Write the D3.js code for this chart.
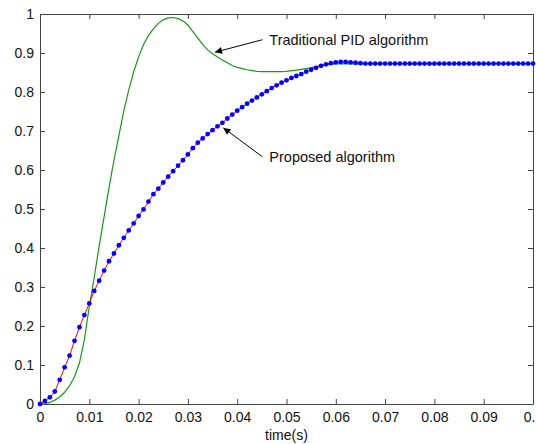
<!DOCTYPE html>
<html>
<head>
<meta charset="utf-8">
<script src="https://cdn.jsdelivr.net/npm/d3@7"></script>
<style>
  body { margin: 0; background: #fff; }
  svg { display: block; font-family: Arial, 'Liberation Sans', sans-serif; }
</style>
</head>
<body>
<svg id="chart" width="536" height="444"></svg>
<script>
// sample times, one every millisecond
const time = d3.range(0, 101).map((i) => i / 1000);

// traditional PID step response (green)
const pidValues = [
  0, 0.001, 0.004, 0.01, 0.018, 0.03, 0.047, 0.07, 0.105, 0.165,
  0.25, 0.325, 0.405, 0.48, 0.555, 0.625, 0.688, 0.752, 0.805, 0.852,
  0.89, 0.922, 0.945, 0.962, 0.976, 0.985, 0.99, 0.991, 0.988, 0.982,
  0.972, 0.955, 0.938, 0.922, 0.908, 0.898, 0.89, 0.882, 0.875, 0.868,
  0.863, 0.86, 0.857, 0.855, 0.853, 0.852, 0.852, 0.852, 0.852, 0.852,
  0.853, 0.855, 0.856, 0.858, 0.86, 0.862, 0.865, 0.867, 0.869, 0.871,
  0.872, 0.872, 0.872, 0.872, 0.872, 0.872, 0.872, 0.872, 0.872, 0.872,
  0.872, 0.872, 0.872, 0.872, 0.872, 0.872, 0.872, 0.872, 0.872, 0.872,
  0.872, 0.872, 0.872, 0.872, 0.872, 0.872, 0.872, 0.872, 0.872, 0.872,
  0.872, 0.872, 0.872, 0.872, 0.872, 0.872, 0.872, 0.872, 0.872, 0.872,
  0.872,
];

// proposed algorithm step response (red line, blue dots)
const proposedValues = [
  0, 0.008, 0.017, 0.032, 0.062, 0.094, 0.124, 0.162, 0.197, 0.228,
  0.258, 0.29, 0.316, 0.342, 0.366, 0.386, 0.407, 0.426, 0.445, 0.463,
  0.482, 0.499, 0.519, 0.538, 0.552, 0.568, 0.583, 0.597, 0.611, 0.625,
  0.64, 0.656, 0.67, 0.681, 0.692, 0.702, 0.712, 0.721, 0.732, 0.742,
  0.752, 0.761, 0.77, 0.778, 0.786, 0.794, 0.802, 0.81, 0.817, 0.824,
  0.83, 0.836, 0.841, 0.846, 0.852, 0.857, 0.862, 0.867, 0.871, 0.874,
  0.876, 0.877, 0.877, 0.876, 0.875, 0.874, 0.873, 0.873, 0.873, 0.873,
  0.873, 0.873, 0.873, 0.873, 0.873, 0.873, 0.873, 0.873, 0.873, 0.873,
  0.873, 0.873, 0.873, 0.873, 0.873, 0.873, 0.873, 0.873, 0.873, 0.873,
  0.873, 0.873, 0.873, 0.873, 0.873, 0.873, 0.873, 0.873, 0.873, 0.873,
  0.873,
];

const xTicks = [0, 0.01, 0.02, 0.03, 0.04, 0.05, 0.06, 0.07, 0.08, 0.09, 0.1];
const yTicks = [0, 0.1, 0.2, 0.3, 0.4, 0.5, 0.6, 0.7, 0.8, 0.9, 1];

// annotations: text, arrow tip, arrow tail
const annotations = [
  { label: 'Traditional PID algorithm', t: 0.0355, v: 0.902, tail: [0.0451, 0.934] },
  { label: 'Proposed algorithm', t: 0.0372, v: 0.708, tail: [0.0451, 0.634] },
];

const margin = { top: 14, right: 3, bottom: 40, left: 40 };
const width = 536;
const height = 444;
const axisColor = '#444';

const svg = d3.select('#chart');

const x = d3
  .scaleLinear()
  .domain([0, 0.1])
  .range([margin.left, width - margin.right]);
const y = d3
  .scaleLinear()
  .domain([0, 1])
  .range([height - margin.bottom, margin.top]);

const styleAxis = (g, labels) => {
  g.select('.domain').attr('stroke', axisColor);
  g.selectAll('.tick line').attr('stroke', axisColor);
  g.selectAll('.tick text')
    .attr('fill', '#111')
    .style('font-size', '14px')
    .style('display', labels ? null : 'none');
};

// bottom / top
svg
  .append('g')
  .attr('transform', `translate(0,${y(0)})`)
  .call(
    d3.axisBottom(x).tickValues(xTicks).tickSizeInner(-5).tickSizeOuter(0)
      .tickPadding(8).tickFormat((d) => String(+d.toFixed(2)))
  )
  .call((g) => styleAxis(g, true));

svg
  .append('g')
  .attr('transform', `translate(0,${y(1)})`)
  .call(d3.axisTop(x).tickValues(xTicks).tickSizeInner(-5).tickSizeOuter(0))
  .call((g) => styleAxis(g, false));

// left / right
svg
  .append('g')
  .attr('transform', `translate(${x(0)},0)`)
  .call(
    d3.axisLeft(y).tickValues(yTicks).tickSizeInner(-5).tickSizeOuter(0)
      .tickPadding(6).tickFormat((d) => String(+d.toFixed(1)))
  )
  .call((g) => styleAxis(g, true));

svg
  .append('g')
  .attr('transform', `translate(${x(0.1)},0)`)
  .call(d3.axisRight(y).tickValues(yTicks).tickSizeInner(-5).tickSizeOuter(0))
  .call((g) => styleAxis(g, false));

svg
  .append('text')
  .attr('x', (x(0) + x(0.1)) / 2)
  .attr('y', 440)
  .attr('text-anchor', 'middle')
  .attr('fill', '#111')
  .style('font-size', '14px')
  .text('time(s)');

const line = (values) =>
  d3
    .line()
    .x((d, i) => x(time[i]))
    .y((d) => y(d))(values);

svg
  .append('path')
  .attr('d', line(pidValues))
  .attr('fill', 'none')
  .attr('stroke', '#1a961a')
  .attr('stroke-width', 1.2);

svg
  .append('path')
  .attr('d', line(proposedValues))
  .attr('fill', 'none')
  .attr('stroke', '#ff0000')
  .attr('stroke-width', 1);

svg
  .append('g')
  .selectAll('circle')
  .data(proposedValues)
  .join('circle')
  .attr('cx', (d, i) => x(time[i]))
  .attr('cy', (d) => y(d))
  .attr('r', 2.4)
  .attr('fill', '#0000ff');

svg
  .append('defs')
  .append('marker')
  .attr('id', 'arrow')
  .attr('viewBox', '0 0 10 10')
  .attr('refX', 10)
  .attr('refY', 5)
  .attr('markerWidth', 11)
  .attr('markerHeight', 7)
  .attr('markerUnits', 'userSpaceOnUse')
  .attr('orient', 'auto')
  .append('path')
  .attr('d', 'M0,0 L10,5 L0,10 Z')
  .attr('fill', '#000');

annotations.forEach((a) => {
  svg
    .append('line')
    .attr('x1', x(a.tail[0]))
    .attr('y1', y(a.tail[1]))
    .attr('x2', x(a.t))
    .attr('y2', y(a.v))
    .attr('stroke', '#000')
    .attr('stroke-width', 1)
    .attr('marker-end', 'url(#arrow)');

  svg
    .append('text')
    .attr('x', x(a.tail[0]) + 7)
    .attr('y', y(a.tail[1]) + 5)
    .attr('fill', '#111')
    .style('font-size', '14.5px')
    .text(a.label);
});
</script>
</body>
</html>
